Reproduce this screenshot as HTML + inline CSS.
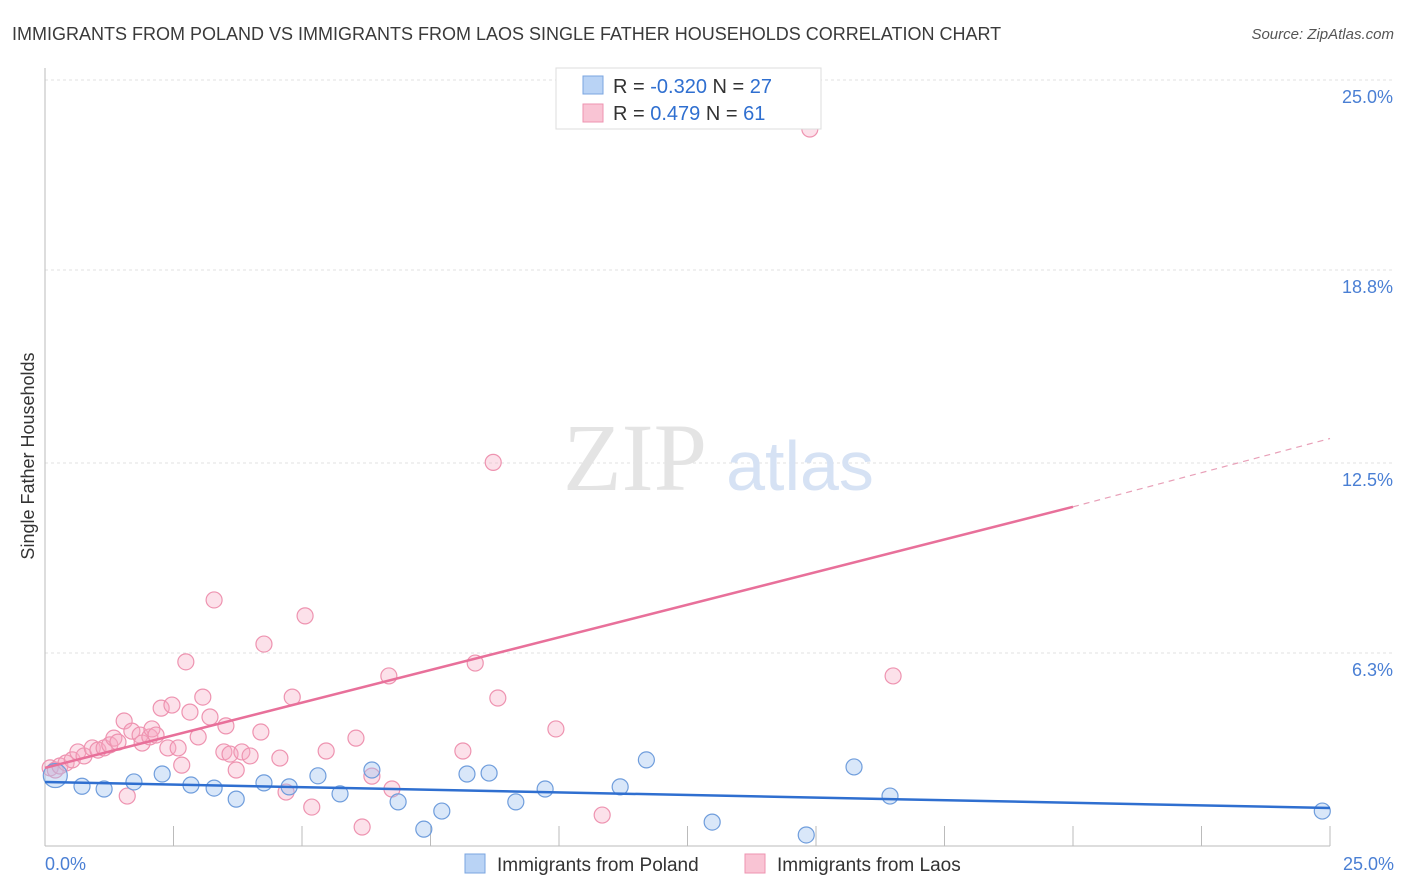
<!DOCTYPE html>
<html><head><meta charset="utf-8"><style>
body{margin:0;background:#fff;font-family:"Liberation Sans",sans-serif}
svg{display:block}
</style></head><body>
<svg id="chart" width="1406" height="892">
<text x="12" y="40" font-size="18" fill="#3a3a3a">IMMIGRANTS FROM POLAND VS IMMIGRANTS FROM LAOS SINGLE FATHER HOUSEHOLDS CORRELATION CHART</text>
<text x="1394" y="39" font-size="15" fill="#555" font-style="italic" text-anchor="end">Source: ZipAtlas.com</text>
<g id="grid"></g>
<text x="635" y="490" font-size="96" fill="#e4e4e4" font-family="Liberation Serif,serif" text-anchor="middle">ZIP</text>
<text x="800" y="490" font-size="70" fill="#d6e2f4" text-anchor="middle">atlas</text>
<g id="marks"></g>
<text transform="translate(34,456) rotate(-90)" font-size="18" fill="#333" text-anchor="middle">Single Father Households</text>
<text x="45" y="870" font-size="18" fill="#4a7fd4">0.0%</text>
<text x="1394" y="870" font-size="18" fill="#4a7fd4" text-anchor="end">25.0%</text>
<g>
<rect x="556" y="68" width="265" height="61" fill="#fff" stroke="#ddd"/>
<rect x="583" y="76" width="20" height="18" fill="#b9d3f5" stroke="#7aa5e0"/>
<rect x="583" y="104" width="20" height="18" fill="#f9c4d4" stroke="#ee93b0"/>
<text x="613" y="93" font-size="20" fill="#333">R = <tspan fill="#2f6fd0">-0.320</tspan>   N = <tspan fill="#2f6fd0">27</tspan></text>
<text x="613" y="120" font-size="20" fill="#333">R =  <tspan fill="#2f6fd0"> 0.479</tspan>   N =  <tspan fill="#2f6fd0">61</tspan></text>
</g>
<g>
<rect x="465" y="854" width="20" height="19" fill="#b9d3f5" stroke="#7aa5e0"/>
<text x="497" y="871" font-size="19" fill="#333">Immigrants from Poland</text>
<rect x="745" y="854" width="20" height="19" fill="#f9c4d4" stroke="#ee93b0"/>
<text x="777" y="871" font-size="19" fill="#333">Immigrants from Laos</text>
</g>
</svg>
<script>
const yTicks=[6.3,12.5,18.8,25.0];
const xTicks=[0,2.5,5,7.5,10,12.5,15,17.5,20,22.5,25];
const polandX=[0.2,0.72,1.15,1.73,2.28,2.84,3.29,3.72,4.26,4.75,5.31,5.74,6.36,6.87,7.37,7.72,8.21,8.64,9.16,9.73,11.19,11.7,12.98,14.81,15.74,16.44,24.85];
const polandY=[2.3,1.95,1.86,2.09,2.35,1.99,1.89,1.53,2.06,1.93,2.29,1.7,2.48,1.44,0.55,1.14,2.35,2.38,1.44,1.86,1.93,2.81,0.78,0.36,2.58,1.63,1.14];
const laosX=[0.1,0.2,0.29,0.41,0.53,0.64,0.76,0.92,1.03,1.15,1.26,1.34,1.42,1.54,1.6,1.69,1.85,1.89,2.04,2.08,2.16,2.26,2.39,2.47,2.59,2.66,2.74,2.82,2.98,3.07,3.21,3.29,3.48,3.52,3.6,3.72,3.83,3.99,4.2,4.26,4.57,4.69,4.81,5.06,5.19,5.47,6.05,6.17,6.36,6.69,6.75,8.13,8.37,8.72,8.81,9.94,10.84,14.88,16.5];
const laosY=[2.55,2.48,2.61,2.71,2.81,3.07,2.94,3.2,3.13,3.2,3.3,3.52,3.39,4.08,1.63,3.75,3.62,3.36,3.56,3.82,3.62,4.5,3.2,4.6,3.2,2.64,6.01,4.37,3.56,4.86,4.21,8.03,3.07,3.92,3.0,2.48,3.07,2.94,3.72,6.59,2.87,1.76,4.86,7.51,1.27,3.1,3.52,0.62,2.28,5.55,1.86,3.1,5.97,12.52,4.83,3.82,1.01,23.4,5.55];
const X=v=>45+v*51.4, Y=v=>846-v*30.64;
const ns="http://www.w3.org/2000/svg";
const mk=(t,a,p)=>{const e=document.createElementNS(ns,t);for(const k in a)e.setAttribute(k,a[k]);p.appendChild(e);return e;};
const g=document.getElementById('grid'), m=document.getElementById('marks');
yTicks.forEach(t=>{
const l=mk('line',{x1:45,x2:1394,y1:Y(t),y2:Y(t),stroke:'#e2e2e2','stroke-dasharray':'3,3'},g);


const tx=mk('text',{x:1393,y:Y(t)+23,'font-size':18,fill:'#4a7fd4','text-anchor':'end'},g);
tx.textContent=t.toFixed(1)+'%';


});
const ax=mk('line',{x1:45,x2:45,y1:68,y2:846,stroke:'#bbb'},g);


const bx=mk('line',{x1:45,x2:1330,y1:846,y2:846,stroke:'#bbb'},g);


xTicks.forEach(t=>{
const l=mk('line',{x1:X(t),x2:X(t),y1:826,y2:846,stroke:'#bbb'},g);


});
laosX.forEach((v,i)=>{
const c=mk('circle',{cx:X(v),cy:Y(laosY[i]),r:8,fill:'rgba(246,170,196,0.35)',stroke:'#ee93b0','stroke-width':1.2},m);


});
polandX.forEach((v,i)=>{
const c=mk('circle',{cx:X(v),cy:Y(polandY[i]),r:i==0?12:8,fill:'rgba(160,195,240,0.4)',stroke:'#6f9ddc','stroke-width':1.2},m);


});
const pl=mk('line',{x1:X(0),y1:Y(2.09),x2:X(25),y2:Y(1.24),stroke:'#2f6fd0','stroke-width':2.5},m);


const ll=mk('line',{x1:X(0),y1:Y(2.55),x2:X(20),y2:Y(11.07),stroke:'#e8709a','stroke-width':2.5},m);


const ld=mk('line',{x1:X(20),y1:Y(11.07),x2:X(25),y2:Y(13.3),stroke:'#e8a0b8','stroke-width':1.2,'stroke-dasharray':'6,5'},m);


</script>
</body></html>
